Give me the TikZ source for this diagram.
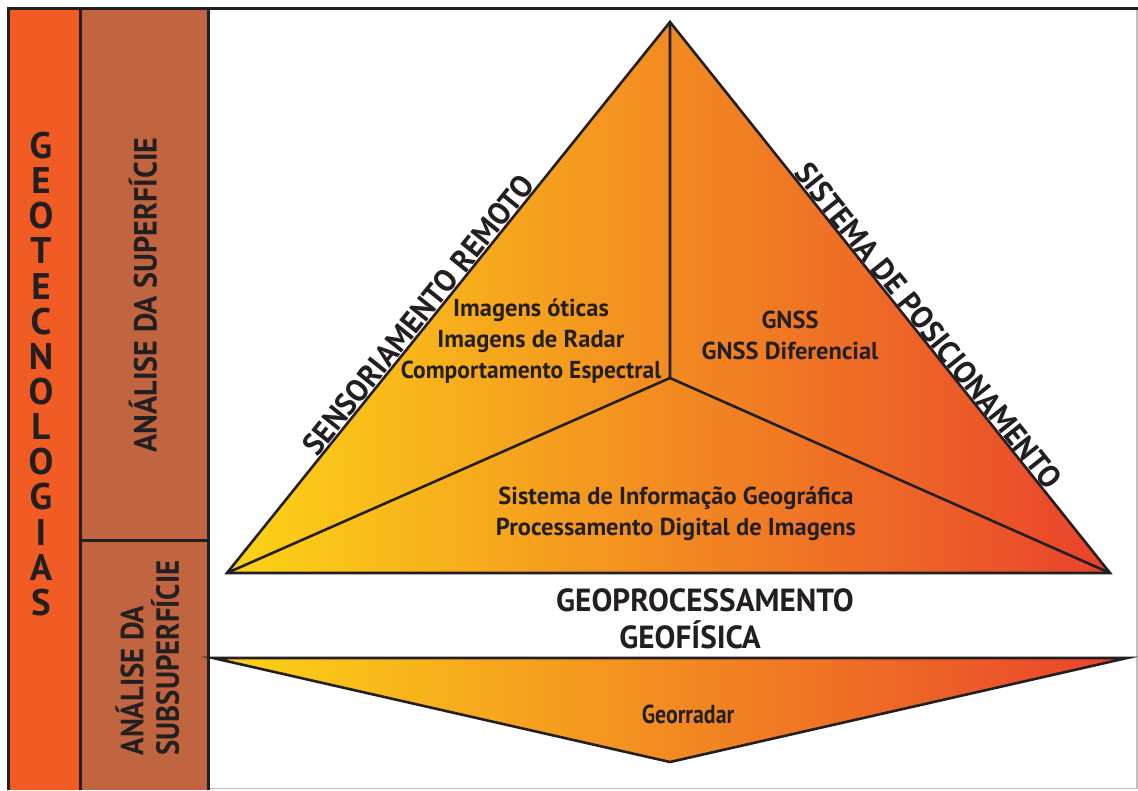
\documentclass[tikz,border=0pt]{standalone}
\usepackage{fontspec}
\setmainfont{PT Sans}
\usetikzlibrary{calc}
\definecolor{gy}{RGB}{252,212,22}
\definecolor{go}{RGB}{246,166,50}
\definecolor{gr}{RGB}{233,66,44}
\definecolor{colO}{RGB}{241,92,37}
\definecolor{colB}{RGB}{193,100,64}
\definecolor{ink}{RGB}{35,31,32}
\newcommand{\fs}[2]{\fontsize{#1}{#2}\selectfont}
\tikzset{
  edge/.style={draw=ink, line width=2.6pt, line join=miter},
  frameline/.style={draw=ink, line width=3pt},
  lbl/.style={inner sep=0pt, text=ink},
  inner/.style={lbl, align=center, font=\bfseries\fs{24.5}{31}},
  grad/.style={left color=gy, middle color=go, right color=gr}
}
\begin{document}
\begin{tikzpicture}[x=1pt,y=-1pt]
\useasboundingbox (0,0) rectangle (1138,790);
\fill[white] (0,0) rectangle (1138,790);
% columns
\fill[colO] (8,8) rectangle (80,790);
\fill[colB] (80,8) rectangle (208,790);
\draw[black!25, line width=1.5pt] (208,788.5) -- (1137,788.5) -- (1137,8);
\draw[frameline] (8,790) -- (8,8) -- (1138,8);
\draw[frameline] (80,8) -- (80,790);
\draw[frameline] (208,8) -- (208,790);
\draw[frameline] (80,540) -- (208,540);
% coordinates
\coordinate (A) at (670,22);
\coordinate (L) at (227,573);
\coordinate (R) at (1110,573);
\coordinate (C) at (670,378);
\coordinate (P) at (213,658);
\coordinate (Q) at (1127,658);
\coordinate (V) at (670,762);
% main triangle
\shade[grad] (L) -- (A) -- (R) -- cycle;
\draw[edge] (L) -- (A) -- (R) -- cycle;
\draw[edge] (A) -- (C) (L) -- (C) -- (R);
% inverted triangle
\shade[grad] (P) -- (Q) -- (V) -- cycle;
\draw[edge] (P) -- (Q) -- (V) -- cycle;
% side labels
\path (L) -- (A) node[pos=0.454, sloped, above=1pt, lbl, font=\bfseries\fs{31}{31}] (sr) {\scalebox{0.97}[1]{SENSORIAMENTO REMOTO}};
\path (A) -- (R) node[pos=0.565, sloped, above=1pt, lbl, font=\bfseries\fs{31}{31}] (sp) {\scalebox{0.97}[1]{SISTEMA DE POSICIONAMENTO}};
% inner texts
\node[inner] (img) at (531,341) {Imagens óticas\\Imagens de Radar\\\scalebox{0.96}[1]{Comportamento Espectral}};
\node[inner] (gnss) at (790,335) {GNSS\\GNSS Diferencial};
\node[inner] (sig) at (676,514) {Sistema de Informação Geográfica\\Processamento Digital de Imagens};
\node[lbl, font=\bfseries\fs{32}{32}] (geop) at (705,600) {\scalebox{0.975}[1]{GEOPROCESSAMENTO}};
\node[lbl, font=\bfseries\fs{32}{32}] (geof) at (690,635) {\scalebox{0.975}[1]{GEOFÍSICA}};
\node[lbl, font=\bfseries\fs{26}{26}] (geor) at (688,714) {\scalebox{0.84}[1]{Georradar}};
% column texts
\node[lbl, align=center, font=\bfseries\fs{37}{35.15}] (geo) at (41,374) {G\\E\\O\\T\\E\\C\\N\\O\\L\\O\\G\\I\\A\\S};
\node[lbl, rotate=90, font=\bfseries\fs{32}{32}] (sup) at (143,295) {\scalebox{0.94}[1]{ANÁLISE DA SUPERFÍCIE}};
\node[lbl, rotate=90, font=\bfseries\fs{32}{32}] (sub) at (152,658) {\scalebox{0.9}[1]{\begin{tabular}{@{}l@{}}ANÁLISE DA\\[-2pt]SUBSUPERFÍCIE\end{tabular}}};
\end{tikzpicture}
\end{document}
